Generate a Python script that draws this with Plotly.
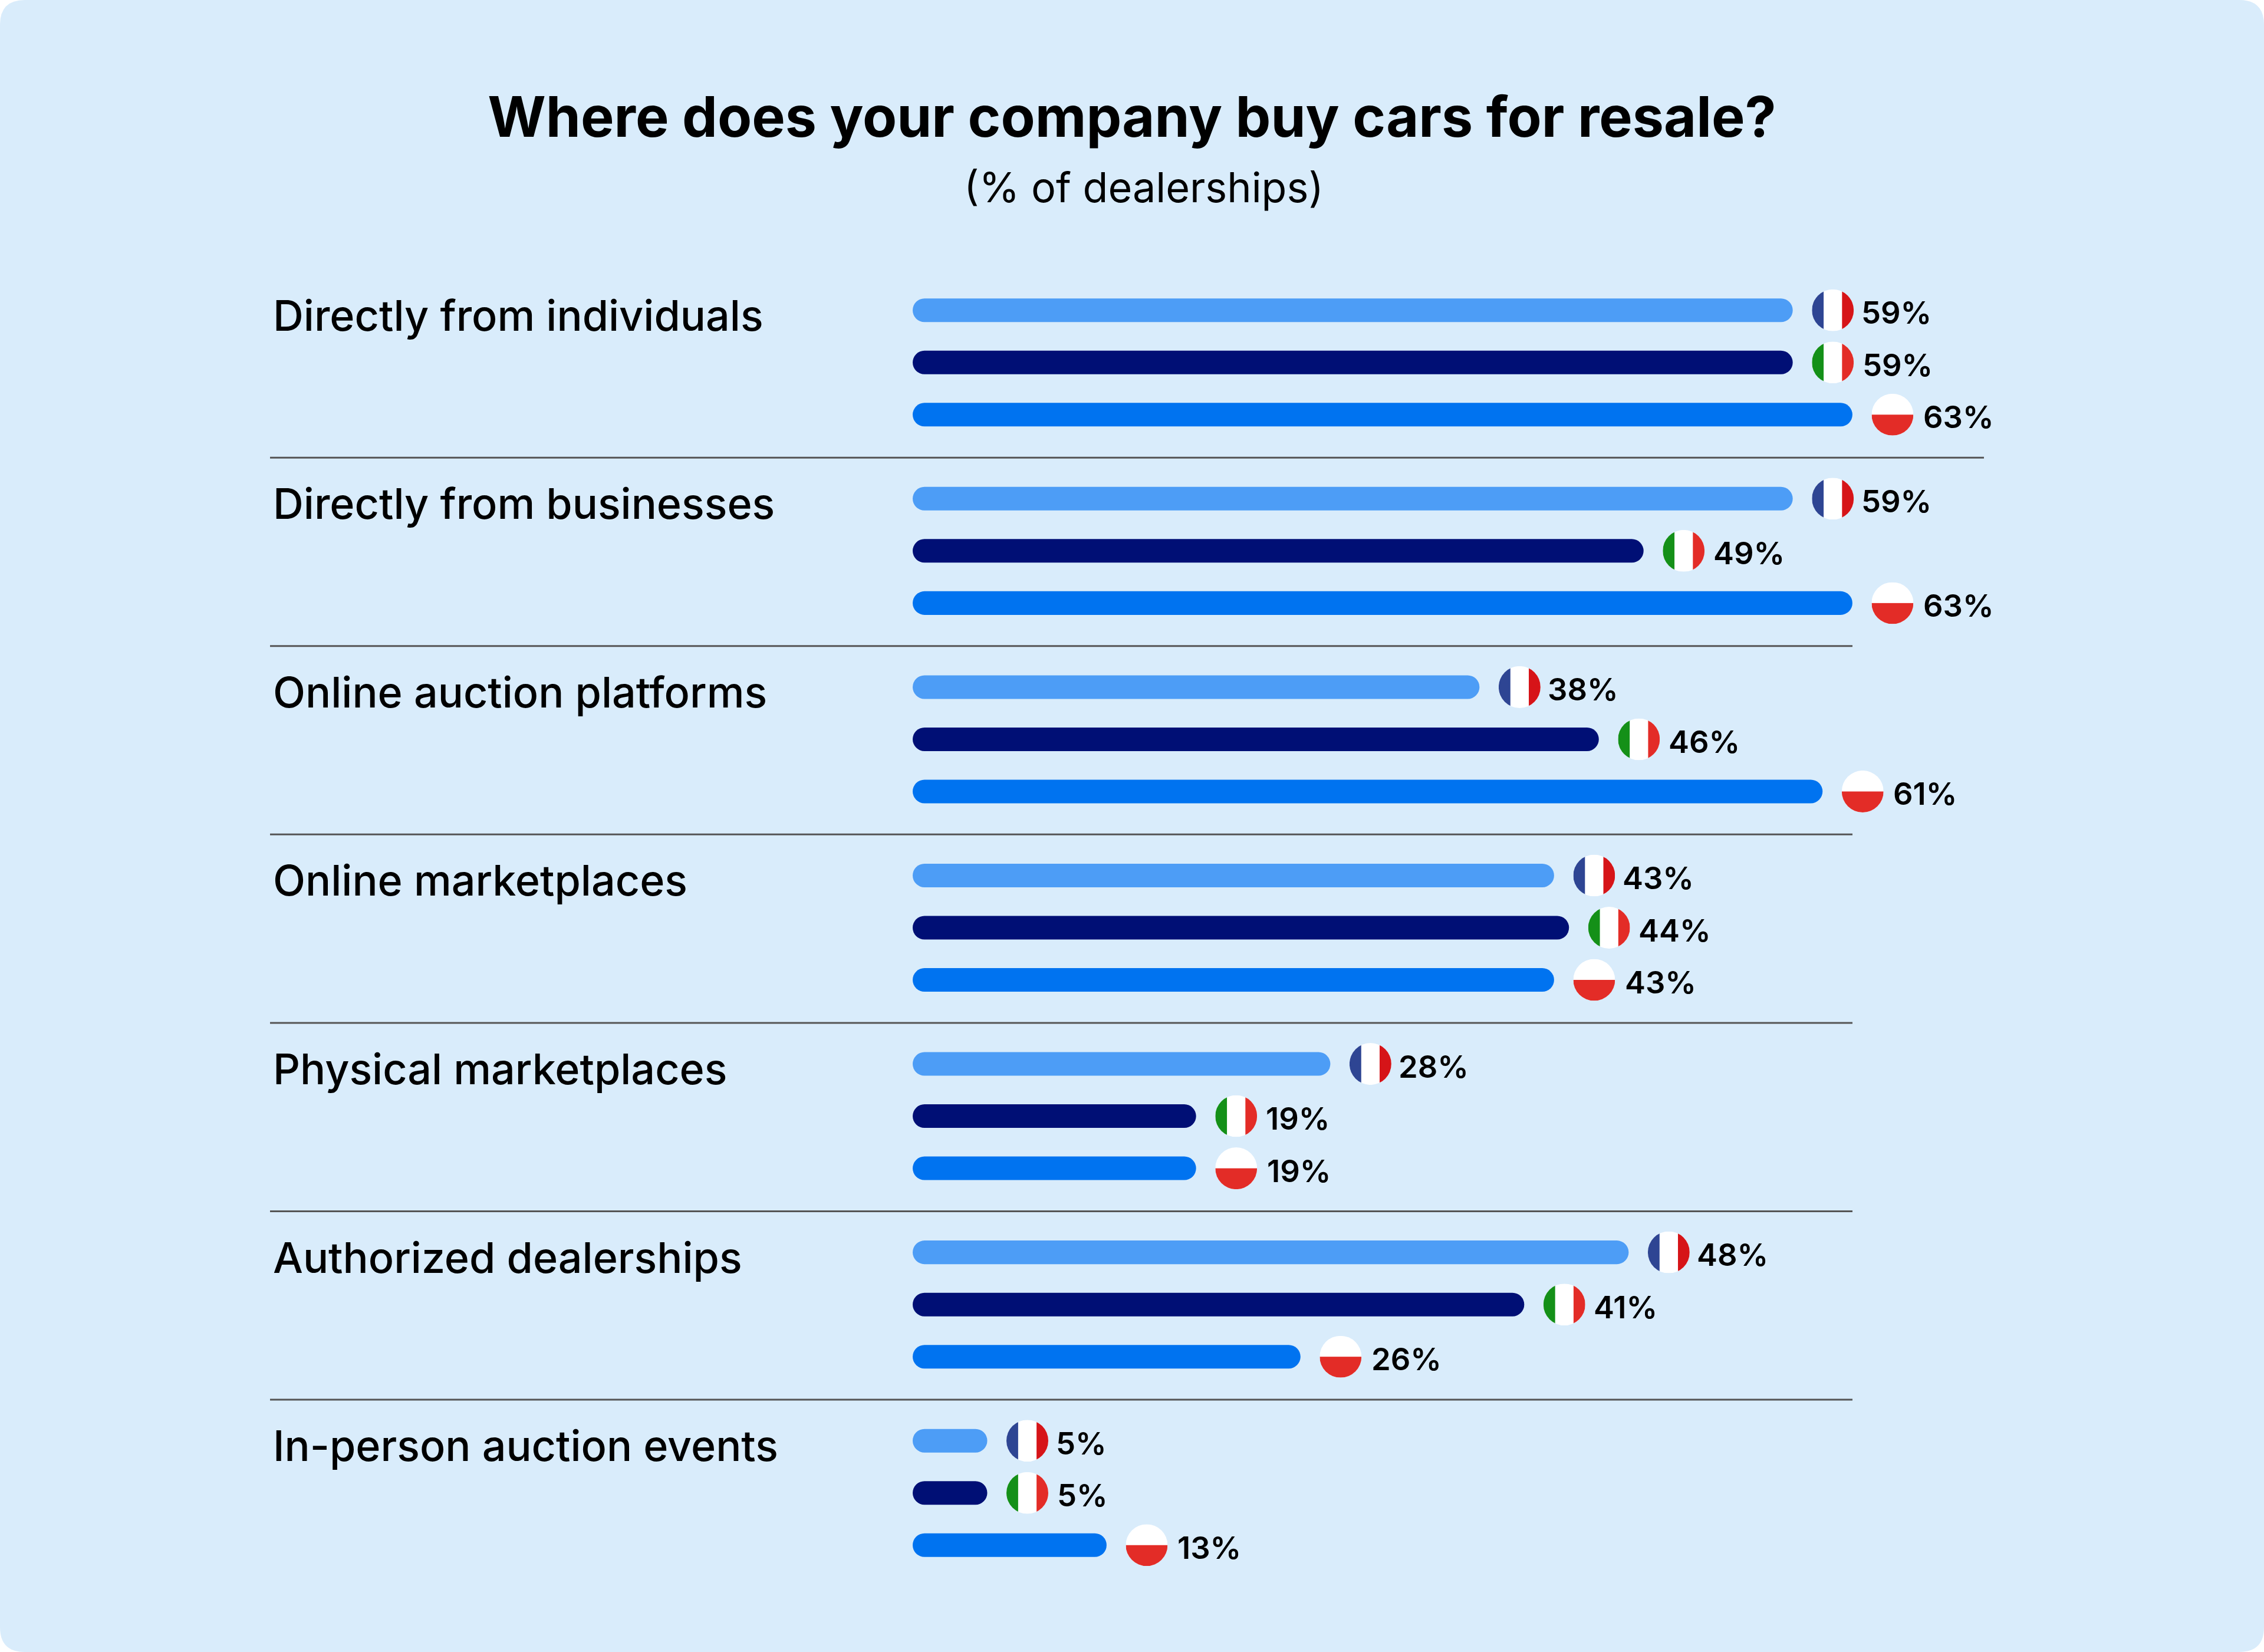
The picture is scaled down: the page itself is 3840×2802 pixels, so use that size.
import base64
import plotly.graph_objects as go

# -----------------------------
# Data
# -----------------------------
channels = [
    "Directly from individuals",
    "Directly from businesses",
    "Online auction platforms",
    "Online marketplaces",
    "Physical marketplaces",
    "Authorized dealerships",
    "In-person auction events",
]
france = [59, 59, 38, 43, 28, 48, 5]
italy = [59, 49, 46, 44, 19, 41, 5]
poland = [63, 63, 61, 43, 19, 26, 13]

title_text = "Where does your company buy cars for resale?"
subtitle_text = "(% of dealerships)"

# -----------------------------
# Layout constants (pixels)
# -----------------------------
W, H = 3840, 2802
LEFT, TOP = 1548, 455
PLOT_W, PLOT_H = 2292, 2237
PX_PER_PCT = 25.3
SLOT = 0.277  # distance between bars of a group, in category units
BAR_H = 40
BG = "#D9ECFB"
FONT = "Inter"


def flag_uri(svg_body):
    svg = (
        '<svg xmlns="http://www.w3.org/2000/svg" width="284" height="284" viewBox="0 0 100 100">'
        '<defs><clipPath id="c"><circle cx="50" cy="50" r="50"/></clipPath></defs>'
        f'<g clip-path="url(#c)">{svg_body}</g></svg>'
    )
    return "data:image/svg+xml;base64," + base64.b64encode(svg.encode()).decode()


def stripes(left, right):
    return (
        '<rect width="100" height="100" fill="#fff"/>'
        f'<rect width="28" height="100" fill="{left}"/>'
        f'<rect x="72" width="28" height="100" fill="{right}"/>'
    )


series = [
    ("France", france, "#4D9DF6", -1, flag_uri(stripes("#2E4593", "#D61418")), 114),
    ("Italy", italy, "#000F75", 0, flag_uri(stripes("#149018", "#E32C27")), 116),
    ("Poland", poland, "#0073F0", 1,
     flag_uri('<rect width="100" height="100" fill="#fff"/><rect y="50" width="100" height="50" fill="#E32C27"/>'), 118),
]

# -----------------------------
# Bars
# -----------------------------
fig = go.Figure()
for name, values, color, _, _, _ in series:
    # An explicit base makes plotly round both ends of the bar
    fig.add_trace(go.Bar(
        name=name,
        y=channels,
        x=values,
        base=0,
        orientation="h",
        marker=dict(color=color, line=dict(width=0), cornerradius=BAR_H / 2),
    ))

# -----------------------------
# Flags and value labels
# -----------------------------
images = []
annotations = []
for name, values, color, pos, uri, shift in series:
    for k, v in enumerate(values):
        images.append(dict(
            source=uri, xref="x", yref="y",
            x=v + 68 / PX_PER_PCT, y=k + pos * SLOT,
            sizex=71 / PX_PER_PCT, sizey=71 / (PLOT_H / 7),
            xanchor="center", yanchor="middle", sizing="stretch", layer="above",
        ))
        annotations.append(dict(
            text=f"{v}%", xref="x", yref="y", x=v, y=k + pos * SLOT, xshift=shift, yshift=-4,
            xanchor="left", yanchor="middle", showarrow=False,
            font=dict(family=FONT, size=52.5, color="#000000", weight=600),
        ))

# Category names sit left of the bars, aligned with the first bar of a group
for k, channel in enumerate(channels):
    annotations.append(dict(
        text=channel, xref="paper", yref="y", x=(461 - LEFT) / PLOT_W, y=k - SLOT, yshift=-8,
        xanchor="left", yanchor="middle", showarrow=False,
        font=dict(family=FONT, size=71.8, color="#000000", weight=500),
    ))

annotations.append(dict(
    text=subtitle_text, xref="paper", yref="paper",
    x=(1940 - LEFT) / PLOT_W, y=1 - (318 - TOP) / PLOT_H,
    xanchor="center", yanchor="middle", showarrow=False,
    font=dict(family=FONT, size=70, color="#000000", weight=400),
))


# -----------------------------
# Background card and separators
# -----------------------------
def px(x):
    return (x - LEFT) / PLOT_W


def py(y):
    return 1 - (y - TOP) / PLOT_H


R = 42
card = (
    f"M {px(R)} {py(0)} L {px(W - R)} {py(0)} Q {px(W)} {py(0)} {px(W)} {py(R)} "
    f"L {px(W)} {py(H - R)} Q {px(W)} {py(H)} {px(W - R)} {py(H)} "
    f"L {px(R)} {py(H)} Q {px(0)} {py(H)} {px(0)} {py(H - R)} "
    f"L {px(0)} {py(R)} Q {px(0)} {py(0)} {px(R)} {py(0)} Z"
)
shapes = [dict(type="path", path=card, xref="paper", yref="paper",
               fillcolor=BG, line=dict(width=0), layer="below")]
for k in range(len(channels) - 1):
    right = 3365 if k == 0 else 3142
    shapes.append(dict(
        type="line", xref="paper", yref="y",
        x0=px(458), x1=px(right), y0=k + 0.505, y1=k + 0.505,
        line=dict(color="#555555", width=3),
    ))

# -----------------------------
# Layout
# -----------------------------
fig.update_layout(
    width=W,
    height=H,
    autosize=False,
    margin=dict(l=LEFT, t=TOP, r=W - LEFT - PLOT_W, b=H - TOP - PLOT_H, pad=0),
    paper_bgcolor="#FFFFFF",
    plot_bgcolor="rgba(0,0,0,0)",
    barmode="group",
    bargap=0.169,
    bargroupgap=0.548,
    showlegend=False,
    title=dict(
        text=title_text, x=0.5, xanchor="center", xref="container",
        y=1 - 199 / H, yanchor="middle", yref="container",
        font=dict(family=FONT, size=95, color="#000000", weight=650),
    ),
    xaxis=dict(range=[0, PLOT_W / PX_PER_PCT], visible=False, fixedrange=True),
    yaxis=dict(categoryorder="array", categoryarray=channels, autorange="reversed",
               visible=False, fixedrange=True),
    images=images,
    annotations=annotations,
    shapes=shapes,
)

# The page body has a default margin that would push the figure off the window
fig.write_html(
    "out.html",
    config={"displayModeBar": False},
    post_script="document.body.style.margin = '0';",
)
